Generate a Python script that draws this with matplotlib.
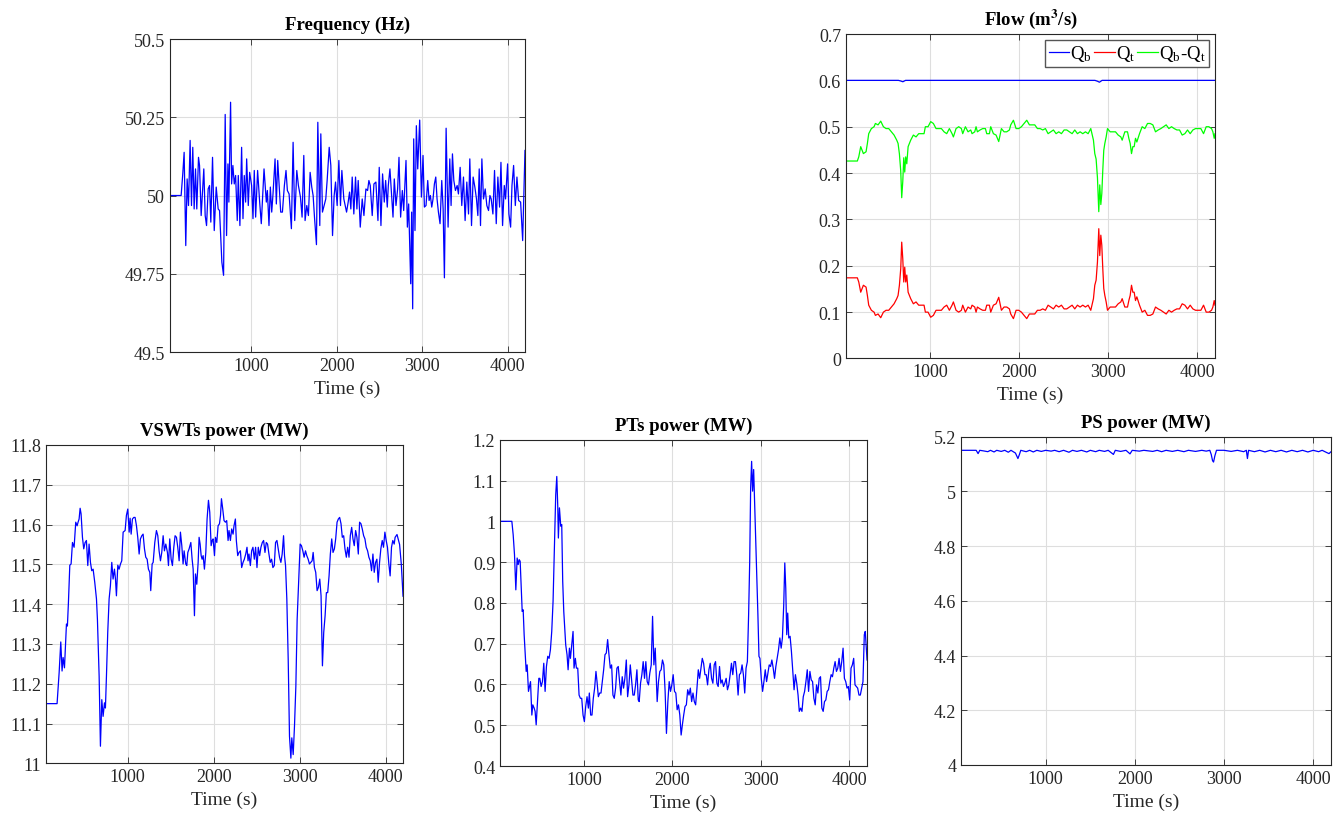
import numpy as np
import matplotlib
matplotlib.use("Agg")
import matplotlib.pyplot as plt
from matplotlib.ticker import FuncFormatter

plt.rcParams['font.family'] = ['Liberation Serif', 'DejaVu Serif']
plt.rcParams['mathtext.fontset'] = 'stix'

# ---- Frequency (Hz)
freq_t = [40, 180, 199, 215, 234, 250, 266, 285, 301, 316, 332, 348, 363, 383, 395, 414, 430, 445, 461, 477,
          496, 512, 527, 547, 567, 590, 613, 629, 641, 656, 676, 695, 711, 727, 738, 758, 770, 785, 801, 817,
          836, 848, 867, 887, 903, 918, 934, 946, 965, 981, 1004, 1020, 1035, 1051, 1074, 1098, 1117, 1149, 1176, 1188,
          1207, 1223, 1239, 1254, 1278, 1293, 1309, 1328, 1344, 1364, 1387, 1406, 1422, 1442, 1469, 1489, 1508, 1532, 1551, 1575,
          1594, 1614, 1629, 1649, 1668, 1688, 1707, 1723, 1739, 1762, 1778, 1801, 1813, 1832, 1852, 1871, 1887, 1911, 1930, 1950,
          1969, 1985, 2004, 2024, 2043, 2059, 2082, 2114, 2133, 2149, 2164, 2180, 2199, 2219, 2235, 2250, 2274, 2297, 2317, 2340,
          2360, 2375, 2391, 2414, 2434, 2457, 2481, 2496, 2516, 2535, 2555, 2571, 2590, 2602, 2621, 2641, 2657, 2672, 2692, 2711,
          2727, 2746, 2766, 2782, 2797, 2809, 2825, 2840, 2864, 2875, 2887, 2899, 2914, 2930, 2946, 2969, 2989, 3008, 3024, 3043,
          3063, 3079, 3094, 3110, 3125, 3141, 3157, 3172, 3188, 3207, 3227, 3243, 3258, 3278, 3301, 3321, 3336, 3352, 3368, 3387,
          3407, 3422, 3442, 3461, 3481, 3500, 3520, 3540, 3555, 3575, 3594, 3614, 3633, 3649, 3665, 3680, 3696, 3715, 3735, 3754,
          3774, 3790, 3805, 3825, 3844, 3864, 3883, 3903, 3919, 3938, 3958, 3973, 3997, 4012, 4032, 4048, 4067, 4087, 4106, 4126,
          4149, 4173, 4200]
freq_hz = [50.0, 50.0, 50.069, 50.138, 49.840, 50.053, 49.968, 50.176, 49.968, 50.154, 49.957, 50.085, 49.957, 50.122, 50.096, 49.936, 50.011, 50.085, 49.936, 49.904,
           50.021, 50.032, 49.915, 50.122, 49.888, 50.027, 49.957, 49.952, 49.878, 49.787, 49.745, 50.259, 49.872, 50.101, 49.979, 50.298, 50.037, 50.096, 50.037, 50.064,
           49.920, 50.064, 49.904, 50.154, 49.926, 50.064, 49.979, 50.117, 49.968, 50.074, 50.032, 49.926, 50.080, 49.931, 50.080, 49.979, 49.910, 50.085, 49.979, 50.016,
           49.904, 50.027, 49.947, 50.005, 50.117, 49.973, 50.112, 50.021, 49.947, 49.947, 50.032, 50.080, 50.016, 50.005, 49.894, 50.170, 49.920, 50.080, 50.032, 49.995,
           49.931, 50.128, 49.920, 49.968, 49.936, 50.074, 50.027, 50.0, 49.931, 49.843, 50.234, 49.904, 50.197, 49.947, 49.968, 49.989, 50.048, 50.154, 50.096, 49.872,
           50.0, 50.043, 49.968, 50.112, 49.968, 50.080, 49.989, 49.947, 49.979, 50.011, 49.957, 50.059, 49.941, 50.059, 49.957, 50.048, 49.899, 49.989, 49.936, 50.021,
           50.016, 50.048, 50.032, 49.936, 50.037, 50.043, 49.920, 50.090, 49.904, 50.069, 49.979, 50.048, 49.963, 50.032, 50.085, 50.0, 49.931, 50.053, 49.968, 50.021,
           50.122, 49.931, 50.016, 49.952, 50.037, 50.112, 49.899, 49.973, 49.718, 49.947, 49.638, 50.181, 49.888, 50.223, 50.085, 50.241, 49.995, 50.128, 49.963, 49.968,
           50.048, 49.984, 50.0, 49.963, 49.989, 50.037, 50.059, 49.989, 49.947, 49.910, 50.048, 49.957, 49.737, 50.215, 49.899, 50.117, 49.968, 50.133, 50.048, 50.016,
           50.032, 50.005, 50.090, 49.968, 50.059, 49.920, 50.043, 49.941, 50.117, 49.904, 50.059, 50.027, 49.989, 49.936, 50.085, 49.904, 50.117, 49.989, 50.021, 49.968,
           49.952, 50.0, 49.989, 49.941, 50.080, 49.910, 50.059, 49.963, 50.106, 49.904, 50.032, 49.989, 50.101, 49.941, 49.899, 50.032, 50.096, 49.968, 50.059, 49.984,
           49.979, 49.856, 50.144]

# ---- Flow (m3/s)
qb_t = [40, 640, 660, 690, 720, 1500, 2850, 2880, 2900, 2930, 4200]
qb = [0.600, 0.600, 0.599, 0.597, 0.600, 0.600, 0.600, 0.598, 0.596, 0.600, 0.600]
qt_t = [40, 178, 194, 216, 246, 276, 291, 306, 336, 366, 381, 411, 441, 471, 501, 531, 561, 591, 621, 636,
        651, 666, 677, 689, 700, 711, 722, 734, 749, 764, 778, 808, 838, 868, 898, 928, 943, 973, 1003, 1033,
        1063, 1093, 1123, 1153, 1183, 1213, 1243, 1258, 1288, 1318, 1348, 1363, 1393, 1423, 1453, 1468, 1498, 1513, 1528, 1558,
        1588, 1618, 1633, 1663, 1678, 1708, 1738, 1768, 1798, 1828, 1858, 1888, 1903, 1933, 1963, 1993, 2023, 2053, 2083, 2113,
        2143, 2173, 2203, 2233, 2263, 2293, 2323, 2353, 2383, 2413, 2443, 2473, 2503, 2533, 2563, 2593, 2623, 2653, 2683, 2713,
        2743, 2773, 2803, 2833, 2848, 2863, 2878, 2893, 2904, 2916, 2927, 2938, 2949, 2961, 2976, 2991, 3021, 3051, 3081, 3111,
        3141, 3156, 3186, 3216, 3231, 3246, 3261, 3276, 3291, 3306, 3321, 3351, 3381, 3411, 3441, 3471, 3501, 3531, 3561, 3591,
        3621, 3651, 3681, 3711, 3741, 3771, 3801, 3831, 3861, 3891, 3921, 3951, 3981, 4011, 4041, 4071, 4101, 4131, 4161, 4176,
        4191, 4200]
qt = [0.174, 0.174, 0.165, 0.143, 0.158, 0.154, 0.136, 0.115, 0.104, 0.100, 0.093, 0.096, 0.088, 0.100, 0.104, 0.104, 0.111, 0.118, 0.129, 0.136,
      0.158, 0.194, 0.251, 0.215, 0.165, 0.197, 0.165, 0.180, 0.143, 0.136, 0.129, 0.118, 0.122, 0.115, 0.115, 0.115, 0.100, 0.100, 0.089, 0.093,
      0.104, 0.104, 0.104, 0.111, 0.115, 0.104, 0.115, 0.122, 0.104, 0.100, 0.104, 0.115, 0.100, 0.111, 0.107, 0.115, 0.111, 0.100, 0.111, 0.107,
      0.104, 0.104, 0.115, 0.115, 0.100, 0.115, 0.118, 0.132, 0.104, 0.111, 0.111, 0.107, 0.096, 0.086, 0.104, 0.104, 0.100, 0.093, 0.086, 0.096,
      0.096, 0.096, 0.104, 0.104, 0.107, 0.104, 0.115, 0.111, 0.107, 0.115, 0.111, 0.115, 0.107, 0.107, 0.111, 0.115, 0.107, 0.115, 0.111, 0.115,
      0.111, 0.115, 0.104, 0.129, 0.158, 0.169, 0.208, 0.280, 0.222, 0.266, 0.244, 0.194, 0.151, 0.136, 0.122, 0.104, 0.111, 0.111, 0.111, 0.118,
      0.122, 0.129, 0.111, 0.111, 0.125, 0.136, 0.158, 0.143, 0.143, 0.125, 0.133, 0.115, 0.100, 0.104, 0.093, 0.093, 0.096, 0.111, 0.107, 0.104,
      0.100, 0.096, 0.104, 0.100, 0.104, 0.107, 0.107, 0.118, 0.115, 0.107, 0.115, 0.107, 0.104, 0.104, 0.104, 0.115, 0.100, 0.100, 0.104, 0.111,
      0.125, 0.115]

# ---- VSWTs power (MW)
vswt_t = [40, 178, 202, 221, 236, 248, 264, 287, 298, 310, 326, 341, 357, 376, 395, 411, 422, 434, 446, 457,
          473, 488, 504, 519, 535, 550, 566, 581, 597, 616, 636, 647, 667, 682, 698, 713, 729, 740, 752, 767,
          783, 798, 814, 829, 845, 857, 868, 884, 899, 915, 930, 946, 969, 984, 1000, 1016, 1027, 1039, 1054, 1070,
          1085, 1101, 1116, 1132, 1147, 1163, 1178, 1194, 1209, 1225, 1240, 1256, 1267, 1283, 1295, 1314, 1333, 1349, 1364, 1380,
          1395, 1411, 1426, 1442, 1461, 1473, 1488, 1504, 1519, 1535, 1550, 1566, 1581, 1597, 1612, 1628, 1643, 1655, 1674, 1686,
          1698, 1713, 1733, 1748, 1760, 1775, 1787, 1802, 1818, 1829, 1841, 1853, 1864, 1876, 1891, 1907, 1922, 1938, 1953, 1969,
          1981, 1992, 2008, 2019, 2035, 2050, 2066, 2078, 2089, 2104, 2119, 2135, 2150, 2166, 2177, 2193, 2208, 2224, 2235, 2251,
          2262, 2278, 2293, 2309, 2324, 2340, 2355, 2371, 2386, 2398, 2409, 2425, 2440, 2455, 2471, 2486, 2502, 2517, 2533, 2548,
          2564, 2579, 2595, 2610, 2625, 2641, 2656, 2672, 2687, 2703, 2718, 2734, 2749, 2764, 2780, 2795, 2811, 2822, 2834, 2849,
          2865, 2880, 2896, 2907, 2923, 2938, 2954, 2969, 2988, 3004, 3019, 3035, 3050, 3066, 3081, 3097, 3112, 3127, 3143, 3155,
          3170, 3185, 3201, 3216, 3232, 3247, 3263, 3278, 3294, 3309, 3324, 3340, 3355, 3371, 3386, 3402, 3417, 3433, 3448, 3463,
          3479, 3494, 3510, 3525, 3541, 3556, 3572, 3587, 3603, 3618, 3633, 3649, 3664, 3680, 3695, 3711, 3726, 3742, 3757, 3772,
          3788, 3803, 3819, 3834, 3850, 3865, 3881, 3896, 3911, 3927, 3942, 3958, 3973, 3989, 4004, 4019, 4035, 4050, 4066, 4081,
          4097, 4108, 4130, 4160, 4180, 4200]
vswt_mw = [11.150, 11.150, 11.228, 11.305, 11.232, 11.266, 11.240, 11.350, 11.345, 11.404, 11.498, 11.501, 11.555, 11.543, 11.606, 11.597, 11.606, 11.614, 11.641, 11.627,
           11.568, 11.539, 11.555, 11.560, 11.497, 11.551, 11.505, 11.484, 11.488, 11.455, 11.413, 11.362, 11.219, 11.043, 11.160, 11.118, 11.152, 11.139, 11.219, 11.329,
           11.413, 11.446, 11.505, 11.463, 11.488, 11.463, 11.421, 11.498, 11.488, 11.501, 11.509, 11.581, 11.585, 11.623, 11.639, 11.581, 11.616, 11.576, 11.614, 11.618,
           11.618, 11.597, 11.568, 11.526, 11.564, 11.572, 11.576, 11.539, 11.518, 11.513, 11.488, 11.480, 11.434, 11.501, 11.505, 11.555, 11.585, 11.572, 11.534, 11.509,
           11.530, 11.572, 11.534, 11.551, 11.530, 11.497, 11.564, 11.513, 11.497, 11.543, 11.572, 11.568, 11.543, 11.509, 11.581, 11.547, 11.501, 11.534, 11.501, 11.497,
           11.530, 11.539, 11.555, 11.513, 11.488, 11.371, 11.476, 11.450, 11.505, 11.568, 11.551, 11.522, 11.513, 11.522, 11.488, 11.530, 11.614, 11.661, 11.631, 11.547,
           11.560, 11.564, 11.522, 11.568, 11.555, 11.597, 11.602, 11.623, 11.665, 11.639, 11.610, 11.606, 11.610, 11.560, 11.585, 11.560, 11.589, 11.576, 11.597, 11.614,
           11.560, 11.522, 11.530, 11.534, 11.492, 11.505, 11.513, 11.526, 11.543, 11.509, 11.526, 11.497, 11.534, 11.543, 11.513, 11.543, 11.492, 11.543, 11.522, 11.543,
           11.555, 11.560, 11.530, 11.555, 11.551, 11.526, 11.505, 11.513, 11.492, 11.497, 11.555, 11.560, 11.539, 11.518, 11.505, 11.526, 11.572, 11.522, 11.497, 11.413,
           11.261, 11.068, 11.013, 11.064, 11.022, 11.093, 11.194, 11.362, 11.463, 11.551, 11.547, 11.534, 11.518, 11.534, 11.522, 11.513, 11.501, 11.505, 11.509, 11.530,
           11.492, 11.480, 11.434, 11.442, 11.463, 11.421, 11.245, 11.329, 11.371, 11.429, 11.429, 11.471, 11.526, 11.564, 11.530, 11.539, 11.564, 11.606, 11.614, 11.618,
           11.602, 11.568, 11.572, 11.539, 11.518, 11.543, 11.518, 11.572, 11.593, 11.564, 11.547, 11.585, 11.568, 11.526, 11.606, 11.602, 11.589, 11.572, 11.564, 11.543,
           11.534, 11.518, 11.509, 11.484, 11.526, 11.480, 11.505, 11.513, 11.455, 11.505, 11.539, 11.560, 11.543, 11.581, 11.560, 11.543, 11.501, 11.471, 11.543, 11.560,
           11.551, 11.568, 11.575, 11.550, 11.500, 11.420]

# ---- PTs power (MW)
pts_t = [40, 184, 199, 214, 229, 244, 256, 267, 278, 290, 301, 312, 323, 335, 346, 357, 372, 383, 395, 410,
         421, 436, 447, 459, 474, 489, 500, 515, 530, 545, 560, 575, 590, 605, 620, 635, 650, 665, 680, 692,
         703, 710, 722, 737, 748, 759, 771, 782, 793, 808, 820, 835, 846, 861, 876, 887, 902, 914, 929, 944,
         959, 974, 989, 1004, 1019, 1034, 1049, 1060, 1075, 1090, 1105, 1120, 1135, 1147, 1162, 1177, 1192, 1207, 1222, 1237,
         1252, 1267, 1282, 1297, 1312, 1327, 1342, 1357, 1372, 1387, 1402, 1417, 1432, 1447, 1462, 1478, 1493, 1508, 1523, 1538,
         1553, 1568, 1583, 1598, 1613, 1624, 1639, 1654, 1669, 1684, 1699, 1714, 1729, 1744, 1760, 1775, 1790, 1805, 1816, 1827,
         1842, 1857, 1872, 1887, 1902, 1917, 1932, 1948, 1963, 1978, 1993, 2008, 2023, 2038, 2053, 2068, 2083, 2098, 2112, 2127,
         2142, 2157, 2172, 2187, 2202, 2217, 2232, 2247, 2262, 2277, 2292, 2307, 2322, 2337, 2352, 2367, 2382, 2397, 2412, 2427,
         2442, 2457, 2472, 2487, 2502, 2517, 2532, 2547, 2562, 2577, 2592, 2607, 2622, 2637, 2652, 2667, 2682, 2697, 2712, 2727,
         2742, 2757, 2772, 2787, 2802, 2817, 2832, 2847, 2861, 2873, 2884, 2895, 2906, 2918, 2933, 2944, 2955, 2966, 2978, 2989,
         3004, 3019, 3034, 3049, 3064, 3079, 3094, 3109, 3124, 3139, 3154, 3169, 3184, 3199, 3214, 3229, 3243, 3258, 3270, 3281,
         3292, 3303, 3315, 3330, 3345, 3360, 3375, 3390, 3405, 3420, 3434, 3449, 3464, 3479, 3494, 3509, 3524, 3539, 3554, 3569,
         3584, 3599, 3614, 3629, 3644, 3659, 3674, 3689, 3704, 3719, 3734, 3749, 3764, 3779, 3794, 3809, 3824, 3839, 3854, 3869,
         3884, 3899, 3914, 3929, 3944, 3959, 3974, 3989, 4004, 4019, 4034, 4049, 4064, 4079, 4094, 4109, 4124, 4139, 4154, 4169,
         4180, 4200]
pts_mw = [1.0, 1.0, 0.967, 0.918, 0.832, 0.910, 0.894, 0.906, 0.902, 0.836, 0.779, 0.783, 0.722, 0.673, 0.632, 0.648, 0.583, 0.595, 0.607, 0.525,
          0.550, 0.542, 0.534, 0.501, 0.558, 0.615, 0.615, 0.595, 0.607, 0.652, 0.583, 0.644, 0.669, 0.664, 0.685, 0.730, 0.804, 0.935, 1.065, 1.110,
          1.037, 0.959, 1.033, 0.988, 0.992, 0.853, 0.779, 0.738, 0.697, 0.673, 0.636, 0.689, 0.664, 0.697, 0.730, 0.640, 0.664, 0.640, 0.640, 0.574,
          0.566, 0.566, 0.525, 0.509, 0.546, 0.570, 0.542, 0.579, 0.525, 0.525, 0.566, 0.591, 0.632, 0.607, 0.570, 0.579, 0.579, 0.607, 0.636, 0.673,
          0.677, 0.710, 0.673, 0.640, 0.648, 0.574, 0.566, 0.591, 0.640, 0.644, 0.607, 0.574, 0.619, 0.591, 0.615, 0.660, 0.570, 0.599, 0.648, 0.611,
          0.574, 0.574, 0.599, 0.636, 0.562, 0.558, 0.603, 0.624, 0.656, 0.615, 0.656, 0.607, 0.599, 0.628, 0.648, 0.767, 0.648, 0.689, 0.624, 0.558,
          0.607, 0.632, 0.636, 0.660, 0.648, 0.583, 0.480, 0.558, 0.607, 0.583, 0.599, 0.624, 0.583, 0.579, 0.538, 0.550, 0.525, 0.476, 0.501, 0.525,
          0.546, 0.550, 0.587, 0.574, 0.591, 0.558, 0.579, 0.558, 0.550, 0.591, 0.636, 0.615, 0.640, 0.664, 0.652, 0.624, 0.624, 0.599, 0.636, 0.652,
          0.615, 0.603, 0.648, 0.656, 0.603, 0.595, 0.644, 0.603, 0.611, 0.595, 0.603, 0.615, 0.587, 0.599, 0.624, 0.652, 0.624, 0.656, 0.656, 0.624,
          0.574, 0.624, 0.628, 0.648, 0.624, 0.579, 0.640, 0.656, 0.771, 0.898, 1.082, 1.147, 1.074, 1.127, 1.016, 0.943, 0.853, 0.771, 0.669, 0.664,
          0.615, 0.583, 0.607, 0.636, 0.607, 0.628, 0.648, 0.644, 0.660, 0.640, 0.615, 0.644, 0.664, 0.685, 0.714, 0.689, 0.714, 0.795, 0.898, 0.836,
          0.722, 0.775, 0.714, 0.718, 0.681, 0.632, 0.587, 0.624, 0.603, 0.574, 0.534, 0.542, 0.534, 0.570, 0.583, 0.607, 0.636, 0.583, 0.632, 0.611,
          0.607, 0.566, 0.550, 0.599, 0.579, 0.615, 0.619, 0.542, 0.534, 0.558, 0.562, 0.583, 0.587, 0.607, 0.624, 0.619, 0.640, 0.656, 0.632, 0.640,
          0.664, 0.632, 0.656, 0.689, 0.615, 0.607, 0.591, 0.595, 0.562, 0.640, 0.648, 0.664, 0.599, 0.595, 0.591, 0.574, 0.574, 0.591, 0.607, 0.722,
          0.730, 0.660]

# ---- PS power (MW)
ps_t = [40, 220, 241, 260, 300, 350, 380, 420, 450, 500, 540, 580, 610, 660, 688, 705, 720, 780, 820, 860,
        900, 950, 1000, 1060, 1100, 1150, 1200, 1260, 1300, 1350, 1400, 1460, 1500, 1560, 1600, 1660, 1700, 1759, 1780, 1840,
        1900, 1945, 1970, 2050, 2100, 2200, 2250, 2300, 2350, 2420, 2480, 2550, 2600, 2680, 2750, 2800, 2840, 2856, 2871, 2882,
        2897, 2915, 3000, 3080, 3150, 3220, 3250, 3262, 3275, 3340, 3400, 3460, 3520, 3580, 3640, 3700, 3760, 3820, 3880, 3940,
        4000, 4060, 4100, 4150, 4177, 4200]
ps_mw = [5.15, 5.15, 5.138, 5.15, 5.148, 5.145, 5.15, 5.144, 5.15, 5.146, 5.15, 5.143, 5.15, 5.14, 5.12, 5.135, 5.15, 5.145, 5.15, 5.144,
         5.15, 5.146, 5.15, 5.147, 5.15, 5.145, 5.15, 5.143, 5.15, 5.146, 5.15, 5.144, 5.15, 5.145, 5.15, 5.146, 5.15, 5.135, 5.15, 5.146,
         5.15, 5.137, 5.15, 5.147, 5.15, 5.146, 5.15, 5.145, 5.15, 5.146, 5.15, 5.145, 5.15, 5.146, 5.15, 5.147, 5.15, 5.135, 5.112, 5.107,
         5.13, 5.15, 5.15, 5.146, 5.15, 5.145, 5.15, 5.12, 5.15, 5.145, 5.15, 5.144, 5.15, 5.145, 5.15, 5.144, 5.15, 5.145, 5.15, 5.144,
         5.15, 5.145, 5.15, 5.142, 5.138, 5.145]

TXT = '#262626'
FS = 13


def style(ax, title, ylim, yticks):
    ax.set_xlim(50, 4200)
    ax.set_ylim(*ylim)
    ax.set_xticks([1000, 2000, 3000, 4000])
    ax.set_yticks(yticks)
    ax.yaxis.set_major_formatter(FuncFormatter(lambda v, p: '%g' % round(v, 4)))
    ax.grid(True, color='#dedede', linewidth=0.8)
    ax.set_axisbelow(True)
    ax.tick_params(direction='in', top=True, right=True, length=4, width=0.6,
                   labelsize=FS, colors=TXT)
    for s in ax.spines.values():
        s.set_color(TXT)
        s.set_linewidth(0.8)
    ax.set_title(title, fontsize=FS + 0.5, fontweight='bold', color='black', pad=7)
    ax.set_xlabel('Time (s)', fontsize=FS + 1, color=TXT, labelpad=4)


fig = plt.figure(figsize=(13.43, 8.2), dpi=100)

ax1 = fig.add_axes([0.1266, 0.5695, 0.2643, 0.3817])
ax1.plot(freq_t, freq_hz, color='#0000ff', lw=0.9)
style(ax1, 'Frequency (Hz)', (49.5, 50.5), [49.5, 49.75, 50, 50.25, 50.5])

ax2 = fig.add_axes([0.6299, 0.5616, 0.2748, 0.3957])
qd = np.interp(qt_t, qb_t, qb) - np.array(qt)
ax2.plot(qb_t, qb, color='#0000ff', lw=0.9, label=r'Q$_\mathregular{b}$')
ax2.plot(qt_t, qt, color='#ff0000', lw=0.9, label=r'Q$_\mathregular{t}$')
ax2.plot(qt_t, qd, color='#00ff00', lw=0.9, label=r'Q$_\mathregular{b}$-Q$_\mathregular{t}$')
style(ax2, r'Flow (m$\mathbf{^3}$/s)', (0, 0.7), [0, 0.1, 0.2, 0.3, 0.4, 0.5, 0.6, 0.7])
leg = ax2.legend(loc='upper right', ncol=3, fontsize=FS + 0.5, handlelength=1.1, handletextpad=0.05,
                 columnspacing=0.1, borderpad=0.2, borderaxespad=0.3, fancybox=False, framealpha=1)
leg.get_frame().set_edgecolor('#555555')
leg.get_frame().set_linewidth(1.0)

ax3 = fig.add_axes([0.0343, 0.0679, 0.2658, 0.3882])
ax3.plot(vswt_t, vswt_mw, color='#0000ff', lw=0.9)
style(ax3, 'VSWTs power (MW)', (11, 11.8), [11, 11.1, 11.2, 11.3, 11.4, 11.5, 11.6, 11.7, 11.8])

ax4 = fig.add_axes([0.3723, 0.0646, 0.2733, 0.3979])
ax4.plot(pts_t, pts_mw, color='#0000ff', lw=0.9)
style(ax4, 'PTs power (MW)', (0.4, 1.2), [0.4, 0.5, 0.6, 0.7, 0.8, 0.9, 1.0, 1.1, 1.2])

ax5 = fig.add_axes([0.7156, 0.0659, 0.2755, 0.4004])
ax5.plot(ps_t, ps_mw, color='#0000ff', lw=0.9)
style(ax5, 'PS power (MW)', (4, 5.2), [4, 4.2, 4.4, 4.6, 4.8, 5, 5.2])

fig.savefig('out.png', dpi=100)
